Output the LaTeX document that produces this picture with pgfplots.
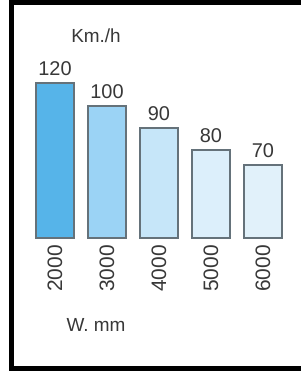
\documentclass[border=0pt]{standalone}
\usepackage{pgfplots}
\pgfplotsset{compat=1.18}
\usepackage{fontspec}
\setmainfont{Liberation Sans}
\definecolor{c1}{HTML}{56B4E9}
\definecolor{c2}{HTML}{9BD3F5}
\definecolor{c3}{HTML}{C6E6F9}
\definecolor{c4}{HTML}{DCEFFB}
\definecolor{c5}{HTML}{E1F1FA}
\definecolor{edge}{HTML}{65727A}
\definecolor{txt}{HTML}{383838}
\begin{document}
\begin{tikzpicture}[x=1bp,y=1bp]
\useasboundingbox (0,0) rectangle (301,372);
\fill[white] (0,0) rectangle (301,372);
% frame (open on the right, as in the reference)
\draw[black,line width=5bp] (301,369.5) -- (11.5,369.5) -- (11.5,3.5) -- (301,3.5);
\begin{axis}[
  at={(29bp,134bp)}, anchor=south west,
  scale only axis, width=260bp, height=200bp,
  xmin=-0.5, xmax=4.5, ymin=0, ymax=200,
  axis line style={draw=none},
  hide y axis,
  ytick=\empty,
  xtick={0,1,2,3,4},
  xticklabels={2000,3000,4000,5000,6000},
  major tick length=0pt,
  x tick label style={rotate=90, anchor=east, font=\fontsize{21}{21}\selectfont, text=txt, inner sep=0pt},
  xticklabel shift=7bp,
  clip=false,
  nodes near coords,
  point meta=explicit symbolic,
  every node near coord/.append style={font=\fontsize{20}{20}\selectfont, text=txt, inner sep=0pt, anchor=south, yshift=7bp},
]
\addplot[ybar, bar width=38bp, draw=edge, line width=1.6bp, fill=c1] coordinates {(0,155) [120]};
\addplot[ybar, bar width=38bp, draw=edge, line width=1.6bp, fill=c2] coordinates {(1,132) [100]};
\addplot[ybar, bar width=38bp, draw=edge, line width=1.6bp, fill=c3] coordinates {(2,110) [90]};
\addplot[ybar, bar width=38bp, draw=edge, line width=1.6bp, fill=c4] coordinates {(3,88) [80]};
\addplot[ybar, bar width=38bp, draw=edge, line width=1.6bp, fill=c5] coordinates {(4,73) [70]};
\end{axis}
\node[font=\fontsize{19}{19}\selectfont, text=txt, inner sep=0pt] at (96,336) {Km./h};
\node[font=\fontsize{19}{19}\selectfont, text=txt, inner sep=0pt] at (96,47) {W. mm};
\end{tikzpicture}
\end{document}
